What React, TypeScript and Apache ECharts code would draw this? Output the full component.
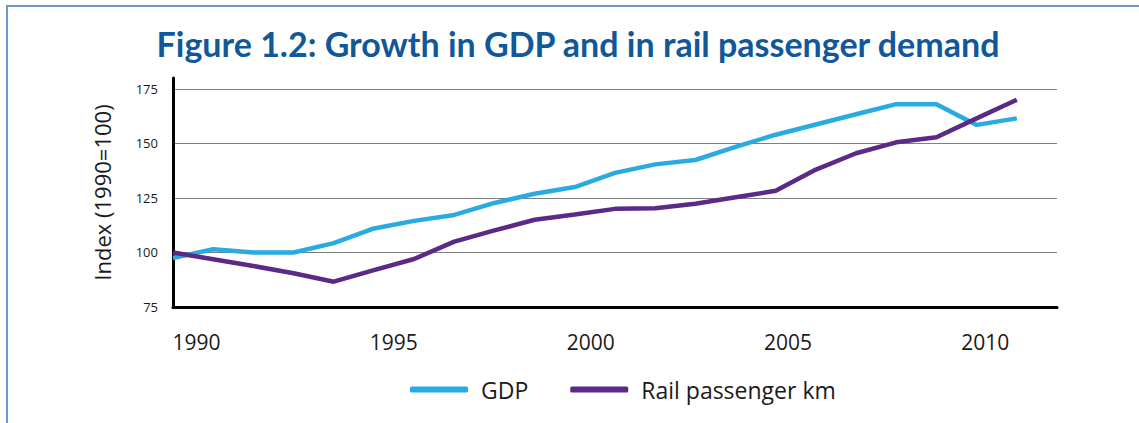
import React, { useEffect, useRef } from "react";
import * as echarts from "echarts";

const years = [1990, 1991, 1992, 1993, 1994, 1995, 1996, 1997, 1998, 1999, 2000, 2001, 2002, 2003, 2004, 2005, 2006, 2007, 2008, 2009, 2010, 2011];
const gdp = [97.5, 101.5, 100, 100, 104.3, 111, 114.5, 117.2, 122.7, 126.9, 130, 136.5, 140.4, 142.4, 148.4, 154, 158.7, 163.4, 168, 168, 158.5, 161.5];
const rail = [100, 96.9, 93.8, 90.5, 86.6, 91.9, 97, 105, 110.1, 115, 117.4, 120, 120.3, 122.3, 125.3, 128.3, 138, 145.5, 150.5, 152.8, 161.5, 170];
const xTickLabels = [1990, 1995, 2000, 2005, 2010];
const seriesNames = ["GDP", "Rail passenger km"];
const titleText = "Figure 1.2: Growth in GDP and in rail passenger demand";
const yAxisName = "Index (1990=100)";

export default function App() {
  const ref = useRef<HTMLDivElement>(null);
  useEffect(() => {
    if (!ref.current) return;
    const chart = echarts.init(ref.current, null, { renderer: "svg" });
    const font = "'Open Sans', sans-serif";
    const frame = { stroke: "#6b98c9", lineWidth: 2 };
    chart.setOption({
      animation: false,
      backgroundColor: "#ffffff",
      title: {
        text: titleText,
        left: 573,
        textAlign: "center",
        top: 21,
        textStyle: { fontFamily: "Lato, sans-serif", fontWeight: "bold", fontSize: 34, color: "#10589a" },
      },
      graphic: [
        { type: "line", shape: { x1: 7, y1: 6, x2: 1139, y2: 6 }, style: frame, silent: true },
        { type: "line", shape: { x1: 7, y1: 5, x2: 7, y2: 423 }, style: frame, silent: true },
      ],
      legend: {
        left: 405,
        top: 373,
        itemWidth: 58,
        itemHeight: 6,
        itemGap: 42,
        icon: "roundRect",
        data: seriesNames,
        textStyle: { fontFamily: font, fontSize: 23, color: "#1a1a1a", padding: [0, 0, 0, 8] },
      },
      grid: { left: 173, right: 82, top: 78, bottom: 116, containLabel: false },
      xAxis: [
        {
          type: "value",
          min: 1990,
          max: 2012,
          axisLine: { show: true, lineStyle: { color: "#000000", width: 3 } },
          axisTick: { show: false },
          axisLabel: { show: false },
          splitLine: { show: false },
        },
        {
          type: "value",
          position: "bottom",
          min: 1989.404,
          max: 2011.82,
          axisLine: { show: false },
          axisTick: { show: false },
          splitLine: { show: false },
          axisLabel: {
            show: true,
            customValues: xTickLabels,
            margin: 24,
            fontFamily: font,
            fontSize: 21,
            color: "#1a1a1a",
            formatter: (v: number) => String(v),
          },
        },
      ],
      yAxis: {
        type: "value",
        min: 75,
        max: 180,
        interval: 25,
        name: yAxisName,
        nameLocation: "middle",
        nameGap: 60,
        nameTextStyle: { fontFamily: font, fontSize: 22, color: "#1a1a1a" },
        axisLine: { show: true, lineStyle: { color: "#000000", width: 3 } },
        axisTick: { show: false },
        axisLabel: {
          margin: 15,
          fontFamily: font,
          fontSize: 13,
          color: "#1a1a1a",
          formatter: (v: number) => (v === 180 ? "" : String(v)),
        },
        splitLine: { show: true, showMinLine: false, showMaxLine: false, lineStyle: { color: "#7f7f7f", width: 1 } },
      },
      series: [
        {
          name: seriesNames[0],
          type: "line",
          xAxisIndex: 0,
          data: years.map((y, i) => [y, gdp[i]]),
          showSymbol: false,
          lineStyle: { color: "#29abe2", width: 4.5 },
          itemStyle: { color: "#29abe2" },
        },
        {
          name: seriesNames[1],
          type: "line",
          xAxisIndex: 0,
          data: years.map((y, i) => [y, rail[i]]),
          showSymbol: false,
          lineStyle: { color: "#5b2a86", width: 4.5 },
          itemStyle: { color: "#5b2a86" },
        },
      ],
    });
    return () => chart.dispose();
  }, []);
  return <div ref={ref} style={{ position: "fixed", left: 0, top: 0, width: 1139, height: 423 }} />;
}
